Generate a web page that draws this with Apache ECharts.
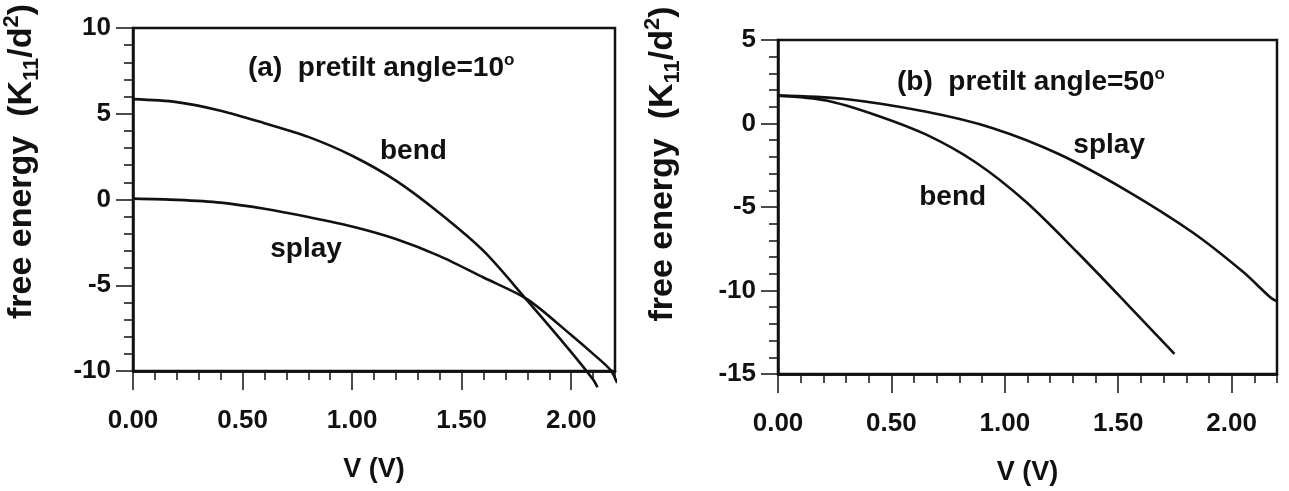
<!DOCTYPE html>
<html>
<head>
<meta charset="utf-8">
<title>free energy vs V</title>
<script src="https://cdn.jsdelivr.net/npm/echarts@6/dist/echarts.min.js"></script>
<style>
    html, body { margin: 0; padding: 0; background: #fff; }
    #chart { width: 1289px; height: 491px; }
</style>
</head>
<body>
<div id="chart"></div>
<script>
    // (a) pretilt angle = 10
    var a_bend_v  = [0, 0.2, 0.4, 0.6, 0.8, 1.0, 1.2, 1.4, 1.6, 1.8, 2.0, 2.1, 2.12];
    var a_bend_e  = [5.85, 5.68, 5.18, 4.45, 3.65, 2.55, 1.1, -0.8, -3.0, -5.9, -8.9, -10.5, -10.95];
    var a_splay_v = [0, 0.2, 0.4, 0.6, 0.8, 1.0, 1.2, 1.4, 1.6, 1.8, 2.0, 2.1, 2.18, 2.21];
    var a_splay_e = [0.05, -0.02, -0.18, -0.54, -1.02, -1.57, -2.3, -3.3, -4.55, -5.82, -7.9, -9.0, -9.95, -10.7];

    // (b) pretilt angle = 50
    var b_bend_v  = [0, 0.213, 0.433, 0.654, 0.874, 1.094, 1.315, 1.535, 1.748];
    var b_bend_e  = [1.67, 1.38, 0.50, -0.67, -2.35, -4.7, -7.65, -10.75, -13.8];
    var b_splay_v = [0, 0.286, 0.654, 0.947, 1.24, 1.535, 1.83, 2.05, 2.17, 2.2];
    var b_splay_e = [1.67, 1.48, 0.70, -0.28, -1.84, -4.0, -6.54, -8.88, -10.4, -10.65];

    var x_major = [0, 0.5, 1.0, 1.5, 2.0];
    var x_range = [0, 2.2];
    var a_y_range = [-10, 10];
    var b_y_range = [-15, 5];

    // curve labels: [V, E]
    var a_bend_at  = [1.28, 2.8];
    var a_splay_at = [0.79, -2.9];
    var b_bend_at  = [0.77, -4.4];
    var b_splay_at = [1.46, -1.3];

    var font = '"Liberation Sans", Arial, sans-serif';
    var ink = '#111';

    function pairs(xs, ys) {
        return xs.map((v, i) => [v, ys[i]]);
    }

    function xAxes(grid) {
        return [
            {   // minor ticks every 0.1
                gridIndex: grid, type: 'value', min: x_range[0], max: x_range[1], interval: 0.1,
                position: 'bottom',
                axisLine: { onZero: false, lineStyle: { color: ink, width: 2.5 } },
                axisTick: { length: 9, lineStyle: { color: ink, width: 1.5 } },
                axisLabel: { show: false },
                splitLine: { show: false }
            },
            {   // major ticks + labels
                gridIndex: grid, type: 'value', min: x_range[0], max: x_range[1], interval: 0.5,
                position: 'bottom',
                name: 'V (V)', nameLocation: 'middle', nameGap: 85,
                nameTextStyle: { fontFamily: font, fontSize: 27, fontWeight: 'bold', color: ink },
                axisLine: { onZero: false, lineStyle: { color: ink, width: 2.5 } },
                axisTick: { length: 19, customValues: x_major, lineStyle: { color: ink, width: 1.5 } },
                axisLabel: {
                    customValues: x_major, margin: 37,
                    fontFamily: font, fontSize: 26, fontWeight: 'bold', color: ink,
                    formatter: v => v.toFixed(2)
                },
                splitLine: { show: false }
            }
        ];
    }

    function yAxis(grid, range, gap, shift) {
        return {
            gridIndex: grid, type: 'value', min: range[0], max: range[1], interval: 5,
            name: 'free energy  (K{sub|11}/d{sup|2})',
            nameLocation: 'middle', nameRotate: 90, nameGap: gap,
            nameTextStyle: {
                fontFamily: font, fontSize: 34, fontWeight: 'bold', color: ink, lineHeight: 42,
                padding: [0, 0, 0, shift],
                rich: {
                    sub: { fontFamily: font, fontSize: 22, fontWeight: 'bold', color: ink, verticalAlign: 'bottom', lineHeight: 22 },
                    sup: { fontFamily: font, fontSize: 22, fontWeight: 'bold', color: ink, verticalAlign: 'top', lineHeight: 22 }
                }
            },
            axisLine: { onZero: false, lineStyle: { color: ink, width: 2.5 } },
            axisTick: { length: 17, lineStyle: { color: ink, width: 1.5 } },
            minorTick: { show: true, splitNumber: 5, length: 9, lineStyle: { color: ink, width: 1.5 } },
            axisLabel: { margin: 22, fontFamily: font, fontSize: 26, fontWeight: 'bold', color: ink },
            splitLine: { show: false }
        };
    }

    function curve(xi, yi, data, tag, at) {
        return {
            type: 'line', xAxisIndex: xi, yAxisIndex: yi,
            data: data, smooth: 0.3, showSymbol: false, clip: false,
            lineStyle: { color: ink, width: 2.6 },
            markPoint: {
                symbol: 'circle', symbolSize: 0, silent: true,
                label: {
                    show: true, position: 'inside', formatter: tag,
                    fontFamily: font, fontSize: 28, fontWeight: 'bold', color: ink
                },
                data: [{ coord: at }]
            }
        };
    }

    function heading(text, left, top) {
        return {
            text: text, left: left, top: top, padding: 0,
            textStyle: {
                fontFamily: font, fontSize: 28, fontWeight: 'bold', color: ink, lineHeight: 32,
                rich: {
                    sup: { fontFamily: font, fontSize: 17, fontWeight: 'bold', color: ink, verticalAlign: 'top', lineHeight: 16 }
                }
            }
        };
    }

    var option = {
        animation: false,
        backgroundColor: '#fff',
        title: [
            heading('(a)  pretilt angle=10{sup|o}', 248, 52),
            heading('(b)  pretilt angle=50{sup|o}', 897, 66)
        ],
        grid: [
            { left: 132, top: 28, width: 483, height: 343, show: true, borderColor: ink, borderWidth: 2.5 },
            { left: 778, top: 40, width: 499, height: 341, show: true, borderColor: ink, borderWidth: 2.5 }
        ],
        xAxis: xAxes(0).concat(xAxes(1)),
        yAxis: [
            yAxis(0, a_y_range, 90, 76),
            yAxis(1, b_y_range, 94, 86)
        ],
        series: [
            curve(0, 0, pairs(a_bend_v, a_bend_e), 'bend', a_bend_at),
            curve(0, 0, pairs(a_splay_v, a_splay_e), 'splay', a_splay_at),
            curve(2, 1, pairs(b_bend_v, b_bend_e), 'bend', b_bend_at),
            curve(2, 1, pairs(b_splay_v, b_splay_e), 'splay', b_splay_at)
        ]
    };

    var chart = echarts.init(document.getElementById('chart'));
    chart.setOption(option);
</script>
</body>
</html>
